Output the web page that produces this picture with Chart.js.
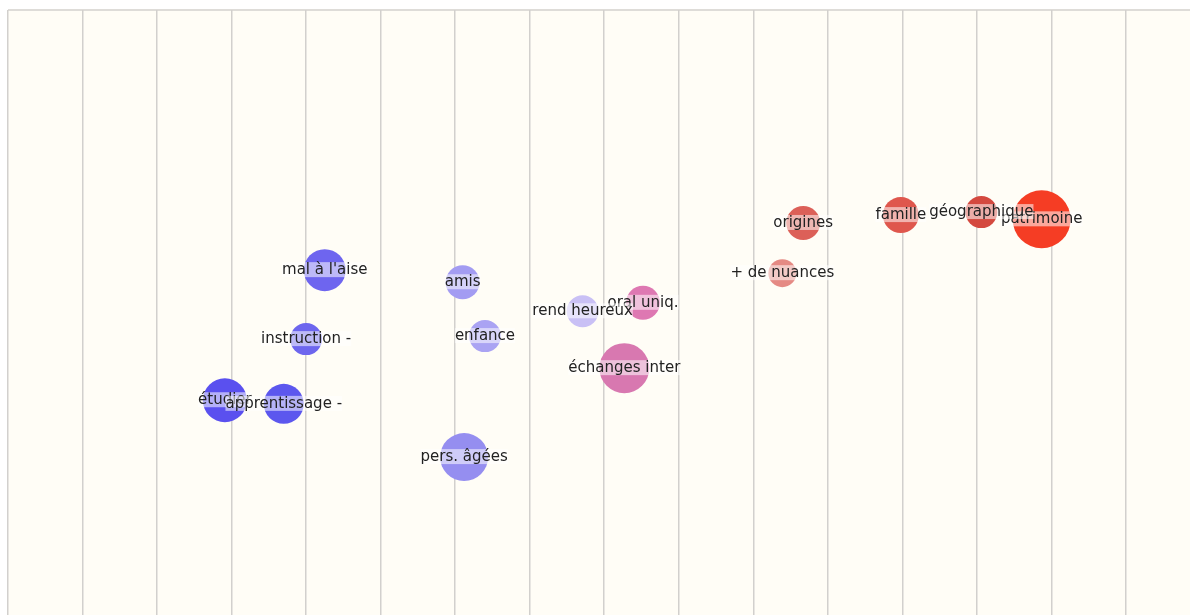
<!DOCTYPE html>
<html>
<head>
<meta charset="utf-8">
<script src="https://cdn.jsdelivr.net/npm/chart.js@4.4.1/dist/chart.umd.min.js"></script>
<style>
  html, body { margin: 0; padding: 0; background: #ffffff; overflow: hidden; }
  #wrap { width: 1190px; height: 615px; }
</style>
</head>
<body>
<div id="wrap"><canvas id="c" width="1190" height="615"></canvas></div>
<script>
// Data (drawing order matters for overlapping labels)
const labels = ["mal à l'aise", "instruction -", "étudier", "apprentissage -", "amis", "enfance", "pers. âgées",
  "oral uniq.", "rend heureux", "échanges inter", "origines", "+ de nuances", "famille", "patrimoine", "géographique"];
const xValues = [4.25, 4.00, 2.91, 3.70, 6.10, 6.40, 6.12, 8.52, 7.71, 8.27, 10.67, 10.39, 11.98, 13.87, 13.06];
const yValues = [5.70, 4.56, 3.55, 3.49, 5.50, 4.61, 2.61, 5.16, 5.02, 4.08, 6.48, 5.65, 6.61, 6.54, 6.66];
const sizes   = [21, 16, 22, 20, 17, 16, 24, 17, 16, 25, 17, 14, 18, 29, 16];
const colors  = ["#6e65ef", "#6d66ee", "#5a50ef", "#5c57ee", "#a39cf2", "#aaa3f3", "#958ef0",
  "#de78b2", "#c9c0f5", "#d878b0", "#dc6058", "#e58a84", "#df574d", "#f53d24", "#d4493f"];

const points = labels.map((l, i) => ({ x: xValues[i], y: yValues[i], r: sizes[i] }));

const bgPlugin = {
  id: 'bg',
  beforeDraw(chart) {
    const { ctx, chartArea: a } = chart;
    ctx.save();
    ctx.fillStyle = '#fffdf6';
    ctx.fillRect(a.left, a.top, a.right - a.left, a.bottom - a.top);
    ctx.strokeStyle = '#dedcd8';
    ctx.lineWidth = 2;
    ctx.beginPath();
    ctx.moveTo(a.left, a.top);
    ctx.lineTo(a.right, a.top);
    ctx.stroke();
    ctx.restore();
  }
};

const labelPlugin = {
  id: 'lbls',
  afterDatasetsDraw(chart) {
    const { ctx } = chart;
    const meta = chart.getDatasetMeta(0);
    ctx.save();
    ctx.font = '15px "DejaVu Sans"';
    ctx.textAlign = 'center';
    ctx.textBaseline = 'middle';
    meta.data.forEach((el, i) => {
      const t = labels[i];
      const w = ctx.measureText(t).width;
      ctx.fillStyle = 'rgba(255,255,255,0.55)';
      ctx.fillRect(el.x - w / 2, el.y - 8, w, 15);
      ctx.fillStyle = '#222222';
      ctx.fillText(t, el.x, el.y);
    });
    ctx.restore();
  }
};

new Chart(document.getElementById('c'), {
  type: 'bubble',
  data: {
    datasets: [{
      data: points,
      backgroundColor: colors,
      borderWidth: 0,
      hoverBorderWidth: 0
    }]
  },
  options: {
    responsive: false,
    animation: false,
    events: [],
    layout: { autoPadding: false, padding: { left: 8, top: 10, right: 0, bottom: 0 } },
    plugins: { legend: { display: false }, tooltip: { enabled: false } },
    scales: {
      x: {
        type: 'linear',
        min: 0,
        max: 15.86,
        ticks: { display: false, stepSize: 1, includeBounds: false },
        grid: { color: '#d2d0cd', lineWidth: 1.5, drawTicks: false },
        border: { display: false },
        afterFit(s) { s.height = 0; }
      },
      y: {
        type: 'linear',
        min: 0,
        max: 10,
        display: false
      }
    }
  },
  plugins: [bgPlugin, labelPlugin]
});
</script>
</body>
</html>
